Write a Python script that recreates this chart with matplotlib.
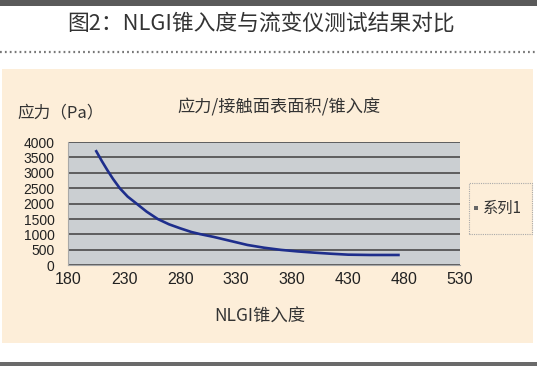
import matplotlib
matplotlib.use("Agg")
import matplotlib.pyplot as plt
from matplotlib.lines import Line2D
from matplotlib.patches import Rectangle

plt.rcParams['font.family'] = ['Noto Sans CJK SC', 'DejaVu Sans']

# 数据
penetration = [205, 210, 215, 220, 226, 233, 241, 250, 260, 270, 280, 290, 298, 310,
               325, 340, 355, 370, 385, 400, 415, 430, 450, 475]
stress = [3700, 3380, 3080, 2800, 2500, 2230, 2000, 1740, 1500, 1330, 1200, 1080, 1010, 920,
          790, 660, 570, 500, 450, 410, 375, 345, 335, 335]

x_ticks = [180, 230, 280, 330, 380, 430, 480, 530]
y_ticks = [0, 500, 1000, 1500, 2000, 2500, 3000, 3500, 4000]

fig_title = "图2：NLGI锥入度与流变仪测试结果对比"
chart_title = "应力/接触面表面积/锥入度"
x_label = "NLGI锥入度"
y_label = "应力（Pa）"
series_name = "系列1"

W, H = 537, 366
fig = plt.figure(figsize=(W / 100, H / 100), dpi=100)
fig.patch.set_facecolor('white')

def fx(px):
    return px / W

def fy(py):
    return 1 - py / H

# 上下深色横条
fig.add_artist(Rectangle((0, fy(6)), 1, 6 / H, transform=fig.transFigure,
                         color='#5a5a5a', lw=0))
fig.add_artist(Rectangle((0, 0), 1, 4 / H, transform=fig.transFigure,
                         color='#6a6a6a', lw=0))

# 标题与虚线
fig.text(fx(261), fy(24), fig_title, ha='center', va='center',
         fontsize=15.7, color='#333333', fontweight='medium')
fig.add_artist(Line2D([0, 1], [fy(51.5), fy(51.5)], transform=fig.transFigure,
                      color='#777777', lw=1.6, ls=(0, (0.8, 1.4))))

# 米色面板
fig.add_artist(Rectangle((fx(2), fy(343)), fx(533 - 2), (343 - 69) / H,
                         transform=fig.transFigure, color='#FDEED9', lw=0, zorder=-1))

# 绘图区
ax = fig.add_axes([fx(68.3), fy(265.3), fx(460 - 68.3), (265.3 - 142) / H])
ax.set_zorder(2)
ax.set_facecolor('#CBCFD2')
ax.plot(penetration, stress, color='#1E2E8C', lw=1.9, solid_joinstyle='round')
ax.set_xlim(180, 530)
ax.set_ylim(0, 4000)
ax.set_xticks(x_ticks)
ax.set_yticks(y_ticks)
ax.set_xticklabels([str(v) for v in x_ticks], family='Liberation Sans', fontsize=11.5)
ax.set_yticklabels([str(v) for v in y_ticks], family='Liberation Sans', fontsize=10)
ax.tick_params(length=0, colors='#222222')
ax.tick_params(axis='y', pad=10)
ax.tick_params(axis='x', pad=5)
ax.yaxis.grid(True, color='#555555', lw=1.3)
ax.set_axisbelow(True)
for s in ['top', 'right']:
    ax.spines[s].set_visible(False)
for s in ['left', 'bottom']:
    ax.spines[s].set_color('#A8A8A8')
    ax.spines[s].set_linewidth(0.8)

# 轴标题与图表标题
fig.text(fx(17), fy(113), y_label, ha='left', va='center', fontsize=12, color='#333333')
fig.text(fx(279), fy(107), chart_title, ha='center', va='center', fontsize=12.4, color='#333333')
fig.text(fx(259.5), fy(316.5), x_label, ha='center', va='center', fontsize=12.5, color='#333333')

# 图例
fig.add_artist(Rectangle((fx(469), fy(234)), fx(532 - 469), (234 - 183) / H,
                         transform=fig.transFigure, fill=False, ec='#AAAAAA',
                         lw=0.8, ls=(0, (1, 1))))
fig.add_artist(Rectangle((fx(474), fy(210)), fx(4), 4 / H,
                         transform=fig.transFigure, color='#666666', lw=0))
fig.text(fx(483), fy(208), series_name, ha='left', va='center', fontsize=11, color='#333333')

fig.savefig("out.png", dpi=100)
